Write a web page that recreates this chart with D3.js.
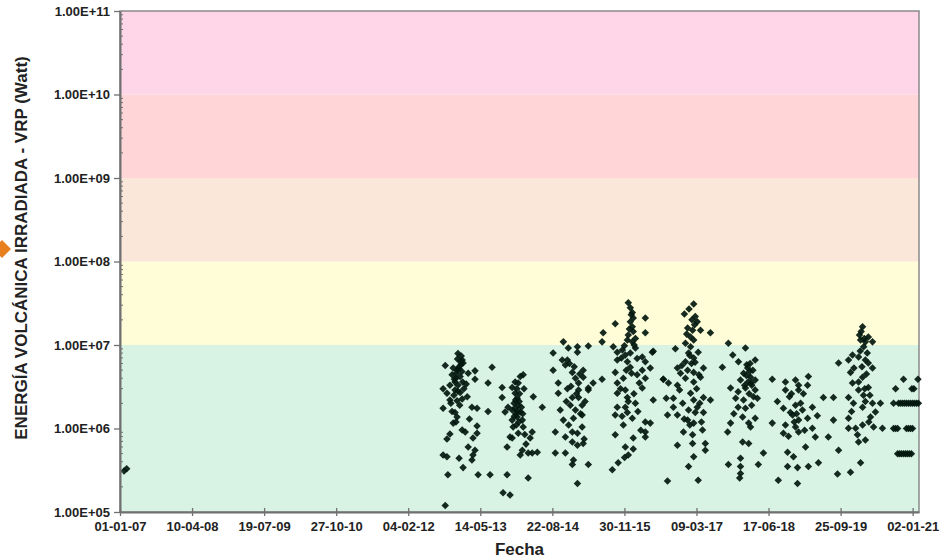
<!DOCTYPE html>
<html>
<head>
<meta charset="utf-8">
<script src="https://cdn.jsdelivr.net/npm/d3@7"></script>
<style>
  body { margin: 0; background: #ffffff; }
  text { font-family: Arial, "Liberation Sans", sans-serif; }
</style>
</head>
<body>
<div id="grafico"></div>
<script>

// VRP (Watt) por fecha, agrupado por periodo de actividad
var datos2007 = [["2007-01-27",3.1e5],["2007-02-13",3.3e5]];

var datos2013 = [["2012-12-21",7.9e6],["2013-01-11",7.4e6],["2013-01-17",6.6e6],["2013-01-11",5.9e6],["2013-01-23",6.1e6],["2012-09-30",5.7e6],
  ["2012-11-20",5.3e6],["2012-12-15",5.0e6],["2013-02-25",4.6e6],["2013-04-10",4.9e6],["2013-04-10",3.9e6],["2012-11-13",4.4e6],
  ["2013-01-04",4.2e6],["2012-12-02",3.6e6],["2012-12-21",3.3e6],["2012-10-30",3.3e6],["2012-09-16",3.0e6],["2012-10-11",2.65e6],
  ["2012-12-02",2.9e6],["2013-01-04",2.7e6],["2013-02-19",2.4e6],["2013-01-17",2.25e6],["2012-12-15",2.15e6],["2012-10-30",2.2e6],
  ["2013-03-21",1.8e6],["2013-04-23",1.75e6],["2012-09-16",1.75e6],["2012-11-13",1.6e6],["2012-12-02",1.55e6],["2012-12-15",1.37e6],
  ["2012-11-20",1.16e6],["2013-04-23",1.07e6],["2013-01-17",9.6e5],["2013-02-06",9.1e5],["2013-04-23",8.8e5],["2012-10-30",8.6e5],
  ["2012-10-11",7.5e5],["2013-03-28",7.7e5],["2013-02-25",6.0e5],["2013-04-10",5.5e5],["2013-03-28",4.8e5],["2013-03-21",4.2e5],
  ["2012-09-16",4.8e5],["2012-10-11",4.6e5],["2012-12-28",4.4e5],["2013-01-23",3.4e5],["2012-10-17",2.8e5],["2013-04-30",2.8e5],
  ["2012-09-30",1.2e5],["2013-07-03",3.5e6],["2013-07-29",5.4e6],["2013-07-03",1.6e6],["2013-07-16",2.8e5],
  ["2012-12-08",4.0e6],["2013-01-28",3.0e6],["2012-11-25",2.5e6],["2013-01-01",1.9e6],["2012-12-26",5.2e6],
  ["2012-12-18",6.8e6],["2013-01-08",6.3e6],["2012-12-28",5.5e6],["2013-01-15",4.8e6],["2012-12-10",4.6e6],["2012-11-28",3.9e6],
  ["2013-01-20",3.6e6],["2012-12-20",2.8e6],["2013-02-12",3.4e6],["2012-11-05",2.0e6],["2013-03-05",1.3e6],["2012-12-08",1.2e6]];

var datos2014 = [["2013-10-02",3.1e6],["2013-10-02",2.35e6],["2013-12-06",3.1e6],["2013-12-25",3.6e6],["2014-01-27",4.2e6],["2014-02-15",4.4e6],
  ["2014-01-14",3.5e6],["2013-12-25",2.65e6],["2014-01-07",2.3e6],["2014-04-21",2.4e6],["2014-06-18",1.8e6],["2013-10-21",1.58e6],
  ["2013-11-09",1.8e6],["2013-12-06",1.67e6],["2013-12-25",1.75e6],["2014-01-14",1.9e6],["2014-01-27",1.58e6],["2014-01-07",1.37e6],
  ["2014-02-09",1.26e6],["2013-12-06",1.26e6],["2013-12-12",1.04e6],["2014-02-15",1.04e6],["2014-01-14",8.8e5],["2013-11-22",7.9e5],
  ["2013-12-06",7.7e5],["2014-04-14",9.1e5],["2014-04-01",7.7e5],["2013-11-03",6.0e5],["2014-02-09",5.5e5],["2014-01-27",4.8e5],
  ["2014-03-19",5.1e5],["2014-04-14",5.1e5],["2014-05-17",5.2e5],["2013-11-03",2.8e5],["2014-03-19",2.55e5],["2013-10-08",1.7e5],
  ["2013-11-22",1.6e5],["2013-12-18",2.0e6],["2014-01-20",2.1e6],["2013-12-30",1.5e6],["2014-01-02",1.1e6],["2014-02-20",3.0e6],
  ["2014-03-05",6.5e5],["2014-01-05",3.0e6],["2014-01-22",2.6e6],["2013-12-28",2.2e6],["2014-02-03",1.8e6],["2014-01-10",1.6e6],
  ["2013-12-20",1.4e6],["2014-02-12",1.5e6],["2014-01-18",1.2e6],["2014-02-25",8.5e5]];

var datos2015 = [["2014-11-01",1.09e7],["2014-12-03",9.2e6],["2015-01-31",9.5e6],["2015-01-31",8.2e6],["2015-04-11",9.7e6],["2014-08-27",8.0e6],
  ["2014-10-25",6.6e6],["2014-11-27",6.6e6],["2014-11-14",5.75e6],["2014-08-27",5.0e6],["2014-12-29",4.7e6],["2015-03-09",5.0e6],
  ["2015-03-09",4.1e6],["2015-01-18",4.0e6],["2014-09-29",3.5e6],["2015-02-07",3.5e6],["2015-05-12",3.5e6],["2015-04-11",3.05e6],
  ["2015-07-09",3.9e6],["2014-11-27",3.0e6],["2014-09-29",2.65e6],["2015-02-07",2.9e6],["2015-04-11",2.9e6],["2014-12-29",2.35e6],
  ["2015-02-07",2.35e6],["2015-03-21",2.1e6],["2015-03-02",1.9e6],["2014-12-16",1.9e6],["2015-01-18",1.67e6],["2014-10-12",1.67e6],
  ["2015-03-02",1.45e6],["2015-01-05",1.33e6],["2014-11-01",1.26e6],["2015-03-02",1.04e6],["2014-09-10",9.1e5],["2014-12-29",9.1e5],
  ["2014-11-14",7.9e5],["2015-01-31",8.8e5],["2014-12-29",6.9e5],["2015-01-31",6.3e5],["2015-03-09",6.6e5],["2014-09-10",5.1e5],
  ["2014-11-14",5.1e5],["2015-01-05",4.2e5],["2014-12-29",3.7e5],["2015-04-11",3.7e5],["2015-01-31",2.2e5],
  ["2014-12-10",6.0e6],["2015-01-10",5.5e6],["2015-02-15",4.5e6],["2014-12-20",3.2e6],["2015-01-25",2.6e6],["2014-11-20",2.1e6],
  ["2015-02-20",1.5e6],["2014-12-05",1.1e6],["2015-03-15",7.5e5]];

var datos2016 = [["2015-12-25",3.2e7],["2016-01-07",2.8e7],["2016-01-20",2.45e7],["2016-01-26",2.1e7],["2016-01-07",1.9e7],["2016-01-20",1.65e7],
  ["2016-01-26",1.45e7],["2015-12-25",1.32e7],["2016-02-09",1.2e7],["2015-12-19",1.15e7],["2016-01-20",1.09e7],["2016-04-13",2.1e7],
  ["2016-04-13",1.4e7],["2015-10-02",1.8e7],["2015-07-16",1.4e7],["2015-09-19",9.5e6],["2015-10-15",8.2e6],["2015-11-17",8.7e6],
  ["2015-12-06",7.6e6],["2016-01-07",8.0e6],["2016-02-09",9.2e6],["2016-03-24",7.2e6],["2016-04-13",6.3e6],["2016-05-28",8.2e6],
  ["2015-10-15",6.6e6],["2015-12-19",6.3e6],["2016-01-07",5.4e6],["2015-10-02",4.7e6],["2016-03-24",5.0e6],["2016-05-15",5.3e6],
  ["2015-10-15",3.5e6],["2015-11-23",4.0e6],["2016-04-13",4.0e6],["2016-03-24",3.05e6],["2016-06-03",2.2e6],["2016-08-07",3.9e6],
  ["2015-10-15",2.65e6],["2015-12-06",2.9e6],["2015-12-19",2.35e6],["2015-12-25",2.1e6],["2015-12-06",1.8e6],["2016-02-09",2.0e6],
  ["2015-10-15",1.8e6],["2015-10-02",1.45e6],["2015-12-19",1.55e6],["2016-01-20",1.33e6],["2015-11-23",1.1e6],["2016-04-13",1.2e6],
  ["2016-05-15",1.16e6],["2016-04-13",9.1e5],["2016-04-13",7.9e5],["2015-10-02",8.4e5],["2016-01-26",7.7e5],["2015-12-06",6.0e5],
  ["2016-01-26",5.7e5],["2015-12-25",4.8e5],["2015-10-21",3.9e5],["2015-09-13",3.2e5],["2015-07-09",1.09e7],["2016-06-03",8.4e6],
  ["2016-01-13",2.3e7],["2016-01-01",1.55e7],["2016-02-01",1.0e7],["2015-11-30",9.8e6],["2016-02-20",6.9e6],["2016-01-15",4.6e6],
  ["2015-11-10",7.0e6],["2015-12-12",5.0e6],["2016-02-20",4.4e6],["2016-03-05",3.5e6],["2015-11-05",3.0e6],["2016-01-30",2.6e6],
  ["2016-02-25",1.6e6],["2015-11-15",1.4e6],["2016-03-15",9.5e5],["2015-12-01",4.5e5]];

var datos2017 = [["2017-02-19",3.1e7],["2016-12-21",2.35e7],["2017-03-01",2.2e7],["2017-03-14",1.9e7],["2017-01-11",1.6e7],["2017-02-12",1.5e7],
  ["2017-04-04",1.5e7],["2017-06-07",1.4e7],["2017-01-30",1.25e7],["2017-02-19",1.15e7],["2016-12-28",1.05e7],["2016-10-24",9.0e6],
  ["2017-01-30",9.5e6],["2017-03-20",8.2e6],["2017-01-17",8.0e6],["2017-02-19",7.0e6],["2016-12-28",6.3e6],["2016-11-06",5.3e6],
  ["2017-01-11",5.0e6],["2017-02-19",4.7e6],["2017-04-23",5.3e6],["2016-08-07",3.9e6],["2016-09-09",3.5e6],["2016-11-26",4.6e6],
  ["2016-12-28",4.0e6],["2017-04-04",4.1e6],["2016-11-06",3.3e6],["2017-02-19",3.6e6],["2016-08-26",2.3e6],["2016-10-11",2.3e6],
  ["2017-01-30",2.65e6],["2017-04-23",2.35e6],["2017-06-07",2.2e6],["2016-10-11",1.8e6],["2017-02-19",2.2e6],["2017-03-14",1.8e6],
  ["2017-01-17",1.67e6],["2016-09-03",1.45e6],["2016-11-06",1.45e6],["2017-03-01",1.55e6],["2017-04-23",1.55e6],["2017-01-11",1.26e6],
  ["2017-02-19",1.16e6],["2017-04-17",9.6e5],["2016-12-15",9.1e5],["2017-02-12",8.4e5],["2016-11-06",6.3e5],["2017-02-12",6.6e5],
  ["2017-05-05",6.6e5],["2017-05-05",5.5e5],["2017-02-19",4.6e5],["2017-01-17",3.5e5],["2016-09-03",2.35e5],["2017-03-20",2.4e5],
  ["2017-01-05",1.35e7],["2017-02-05",6.0e6],["2017-03-10",3.0e6],["2016-12-10",2.0e6],["2017-01-25",1.1e6],["2017-02-25",1.75e7],
  ["2017-01-20",2.7e7],["2017-02-08",2.0e7],["2017-01-25",7.5e6],["2017-02-28",6.2e6],["2016-12-05",5.7e6],["2017-03-25",4.4e6],
  ["2016-11-20",2.9e6],["2017-03-30",2.0e6],["2016-12-20",1.3e6],["2017-04-10",1.2e6]];

var datos2018 = [["2017-10-01",1.05e7],["2018-01-19",9.2e6],["2017-10-29",7.6e6],["2017-12-05",6.3e6],["2018-03-23",6.6e6],["2017-08-23",5.4e6],
  ["2018-02-02",5.3e6],["2018-01-07",4.6e6],["2018-02-21",4.1e6],["2017-12-18",3.8e6],["2018-03-23",3.8e6],["2017-10-15",3.05e6],
  ["2017-12-03",2.75e6],["2018-01-19",3.05e6],["2018-03-23",2.9e6],["2017-11-17",2.3e6],["2018-01-07",2.2e6],["2018-04-06",2.3e6],
  ["2017-12-03",1.8e6],["2018-01-19",1.75e6],["2018-01-01",1.37e6],["2017-10-15",1.16e6],["2018-03-23",1.33e6],["2018-02-09",1.16e6],
  ["2017-09-26",9.1e5],["2018-02-21",1.04e6],["2018-01-01",6.9e5],["2018-02-09",6.6e5],["2018-05-15",5.1e5],["2017-12-18",4.4e5],
  ["2017-10-01",3.7e5],["2017-12-18",3.5e5],["2018-04-12",3.7e5],["2017-12-18",2.9e5],["2017-12-13",2.55e5],
  ["2018-01-25",4.3e6],["2018-02-05",3.6e6],["2018-02-15",4.8e6],["2018-01-28",5.8e6],["2018-03-01",3.3e6],["2018-02-12",2.6e6],
  ["2018-02-18",6.0e6],["2018-03-08",5.0e6],["2018-02-25",3.5e6],["2018-01-14",3.3e6],["2018-03-12",2.4e6],["2017-11-05",1.5e6],
  ["2018-02-28",1.9e6]];

var datos2019 = [["2018-07-11",3.9e6],["2018-10-04",3.6e6],["2018-12-08",3.8e6],["2019-03-01",4.2e6],["2018-12-28",3.3e6],["2019-02-24",3.3e6],
  ["2018-10-04",2.9e6],["2018-12-28",2.9e6],["2018-08-13",2.1e6],["2018-12-08",1.9e6],["2019-03-27",1.8e6],["2018-09-21",1.75e6],
  ["2019-01-22",1.67e6],["2018-11-19",1.45e6],["2019-04-28",1.42e6],["2019-02-24",1.33e6],["2018-12-28",1.26e6],["2018-07-11",1.16e6],
  ["2018-10-04",1.1e6],["2018-12-08",1.04e6],["2019-03-27",1.01e6],["2018-09-21",8.8e5],["2018-12-28",9.1e5],["2019-04-15",7.9e5],
  ["2018-10-24",8.1e5],["2019-02-11",6.0e5],["2018-10-18",5.2e5],["2018-11-25",4.6e5],["2018-10-18",3.5e5],["2018-12-21",3.4e5],
  ["2019-03-01",3.5e5],["2019-05-05",3.9e5],["2018-08-19",2.4e5],["2018-12-21",2.2e5],["2019-06-06",2.35e6],["2019-08-10",2.35e6],
  ["2019-08-10",1.26e6],["2019-07-08",7.9e5],["2019-09-12",5.5e5],["2019-09-05",2.85e5],["2019-11-28",3.0e5],["2020-02-01",3.9e5],
  ["2018-11-05",1.55e6],["2018-11-30",1.2e6],["2018-10-30",2.4e6],["2019-01-10",2.0e6],
  ["2018-11-12",2.6e6],["2019-01-28",2.6e6],["2018-12-15",1.5e6],["2019-02-05",9.5e5]];

var datos2020 = [["2020-02-14",1.65e7],["2020-01-25",1.32e7],["2020-03-22",1.25e7],["2020-03-03",1.09e7],["2020-04-18",1.09e7],["2020-02-21",9.5e6],
  ["2019-12-11",7.6e6],["2020-01-19",7.2e6],["2019-11-15",6.6e6],["2019-09-12",6.1e6],["2020-03-03",6.6e6],["2020-03-22",6.1e6],
  ["2020-04-18",5.3e6],["2019-11-28",4.7e6],["2020-02-14",4.1e6],["2020-01-19",3.6e6],["2019-12-11",3.5e6],["2020-03-22",3.1e6],
  ["2020-01-19",2.9e6],["2019-11-15",2.35e6],["2020-03-03",2.1e6],["2020-04-18",2.0e6],["2020-06-08",2.0e6],["2019-12-17",2.0e6],
  ["2020-02-14",1.8e6],["2020-05-07",1.58e6],["2020-04-05",1.37e6],["2019-11-15",1.33e6],["2020-02-14",1.1e6],["2019-11-15",1.01e6],
  ["2019-12-31",1.01e6],["2020-04-25",1.04e6],["2020-06-21",1.01e6],["2020-01-12",8.4e5],["2020-01-19",6.9e5],["2020-03-03",7.3e5],
  ["2020-02-05",1.45e7],["2020-02-25",1.2e7],["2020-01-30",8.5e6],["2020-02-10",5.5e6],["2020-03-10",4.5e6],["2020-02-28",3.0e6],
  ["2020-02-01",1.15e7],["2020-03-15",8.0e6],["2019-12-20",5.3e6],["2020-02-20",2.5e6],["2020-04-01",2.5e6],["2019-12-05",1.6e6],
  ["2020-03-25",1.2e6]];

var datos2021 = [["2020-09-01",2.0e6],["2020-10-03",2.0e6],["2020-10-16",2.0e6],["2020-10-29",2.0e6],["2020-11-10",2.0e6],["2020-11-23",2.0e6],
  ["2020-12-06",2.0e6],["2020-12-19",2.0e6],["2021-01-01",2.0e6],["2021-01-14",2.0e6],["2021-01-27",2.0e6],["2021-02-08",2.0e6],
  ["2020-09-01",1.0e6],["2020-09-14",1.0e6],["2020-09-27",1.0e6],["2020-11-23",1.0e6],["2020-12-06",1.0e6],["2020-12-19",1.0e6],["2021-01-01",1.0e6],
  ["2020-09-27",5.0e5],["2020-10-10",5.0e5],["2020-10-22",5.0e5],["2020-11-04",5.0e5],["2020-11-17",5.0e5],["2020-11-29",5.0e5],
  ["2020-12-12",5.0e5],["2020-12-25",5.0e5],
  ["2020-09-14",3.0e6],["2020-11-04",3.9e6],["2020-12-28",3.0e6],["2021-01-10",3.0e6],["2021-02-05",3.9e6]];

// etiquetas del eje x (cada 465 dias, como en la hoja original)
var etiquetasFecha = ["01-01-07","10-04-08","19-07-09","27-10-10","04-02-12","14-05-13","22-08-14","30-11-15","09-03-17","17-06-18","25-09-19","02-01-21"];
var fechaFinal = "2021-02-12";

// franjas de nivel de alerta (limites en Watt) y su color
var limitesFranja = [1e5, 1e7, 1e8, 1e9, 1e10, 1e11];
var coloresFranja = ["#d8f2e4", "#fffdd8", "#fae7d9", "#ffd5d8", "#ffd6e7"];

// set the dimensions and margins of the graph
var margin = {top: 11, right: 26, bottom: 48, left: 120},
    width = 945 - margin.left - margin.right,
    height = 560 - margin.top - margin.bottom;

var svgRoot = d3.select("#grafico")
  .append("svg")
    .attr("width", 945)
    .attr("height", 560);

// marcador naranja del borde izquierdo
svgRoot.append("path")
  .attr("d", "M-7,249 L2,240 L11,249 L2,258 Z")
  .style("fill", "#e8801e");

var svg = svgRoot.append("g")
    .attr("transform", "translate(" + margin.left + "," + margin.top + ")");

var parseISO = d3.timeParse("%Y-%m-%d");
var parseEtiqueta = d3.timeParse("%d-%m-%y");

var datos = [].concat(datos2007, datos2013, datos2014, datos2015, datos2016, datos2017, datos2018, datos2019, datos2020, datos2021)
  .map(function(d) { return {fecha: parseISO(d[0]), vrp: d[1]}; });

var fechasTicks = etiquetasFecha.map(function(s) { return parseEtiqueta(s); });

// X axis
var x = d3.scaleTime()
  .domain([fechasTicks[0], parseISO(fechaFinal)])
  .range([0, width]);

// Y axis (log)
var y = d3.scaleLog()
  .domain([limitesFranja[0], limitesFranja[limitesFranja.length - 1]])
  .range([height, 0]);

// franjas de color
var franjas = d3.range(coloresFranja.length).map(function(i) {
  return {desde: limitesFranja[i], hasta: limitesFranja[i + 1], color: coloresFranja[i]};
});

svg.append("g")
  .selectAll("rect")
  .data(franjas)
  .enter()
  .append("rect")
    .attr("x", 0)
    .attr("width", width)
    .attr("y", function(d) { return y(d.hasta); })
    .attr("height", function(d) { return y(d.desde) - y(d.hasta); })
    .style("fill", function(d) { return d.color; });

// borde del area de trazado
svg.append("rect")
  .attr("x", 0).attr("y", 0)
  .attr("width", width).attr("height", height)
  .style("fill", "none")
  .style("stroke", "#8a8a8a")
  .style("stroke-width", 1.5);

// puntos (rombos)
var rombo = d3.symbol().type(d3.symbolDiamond2).size(36);

svg.append("g")
  .selectAll("path")
  .data(datos)
  .enter()
  .append("path")
    .attr("d", rombo)
    .attr("transform", function(d) { return "translate(" + x(d.fecha) + "," + y(d.vrp) + ")"; })
    .style("fill", "#03180f")
    .style("opacity", 0.92);

// eje x
var ejeX = svg.append("g")
  .attr("transform", "translate(0," + height + ")")
  .call(d3.axisBottom(x)
    .tickValues(fechasTicks)
    .tickFormat(d3.timeFormat("%d-%m-%y"))
    .tickSizeOuter(0));

ejeX.select(".domain").style("stroke", "#707070").style("stroke-width", 2);
ejeX.selectAll(".tick line")
  .attr("y1", -4).attr("y2", 4)
  .style("stroke", "#707070").style("stroke-width", 1.3);
ejeX.selectAll(".tick text")
  .attr("y", 19).attr("dy", 0)
  .style("font-size", "13px")
  .style("font-weight", "bold")
  .style("fill", "#222");

// eje y
var decadas = limitesFranja.slice(0, 1).concat(d3.range(6, 12).map(function(e) { return Math.pow(10, e); }));

var ejeY = svg.append("g")
  .call(d3.axisLeft(y)
    .tickValues(decadas)
    .tickFormat(function(d) { return "1.00E+" + d3.format("02d")(Math.round(Math.log10(d))); })
    .tickSizeOuter(0)
    .tickSizeInner(6));

ejeY.select(".domain").style("stroke", "#707070").style("stroke-width", 2);
ejeY.selectAll(".tick line").style("stroke", "#707070").style("stroke-width", 1.3);
ejeY.selectAll(".tick text")
  .attr("x", -10)
  .style("font-size", "13px")
  .style("font-weight", "bold")
  .style("fill", "#222");

// marcas menores del eje logaritmico
var menores = [];
d3.range(5, 11).forEach(function(e) {
  d3.range(2, 10).forEach(function(m) { menores.push(m * Math.pow(10, e)); });
});

svg.append("g")
  .selectAll("line")
  .data(menores)
  .enter()
  .append("line")
    .attr("x1", 0).attr("x2", 3)
    .attr("y1", function(d) { return y(d); })
    .attr("y2", function(d) { return y(d); })
    .style("stroke", "#707070")
    .style("stroke-width", 1);

// titulos de ejes
svg.append("text")
  .attr("transform", "translate(" + (width / 2) + "," + (height + 43) + ")")
  .style("text-anchor", "middle")
  .style("font-size", "17px")
  .style("font-weight", "bold")
  .style("fill", "#222")
  .text("Fecha");

svg.append("text")
  .attr("transform", "translate(" + (-margin.left + 27) + "," + (248 - margin.top) + ") rotate(-90)")
  .style("text-anchor", "middle")
  .style("font-size", "17px")
  .style("font-weight", "bold")
  .style("fill", "#222")
  .text("ENERGÍA VOLCÁNICA IRRADIADA - VRP (Watt)");

</script>
</body>
</html>
